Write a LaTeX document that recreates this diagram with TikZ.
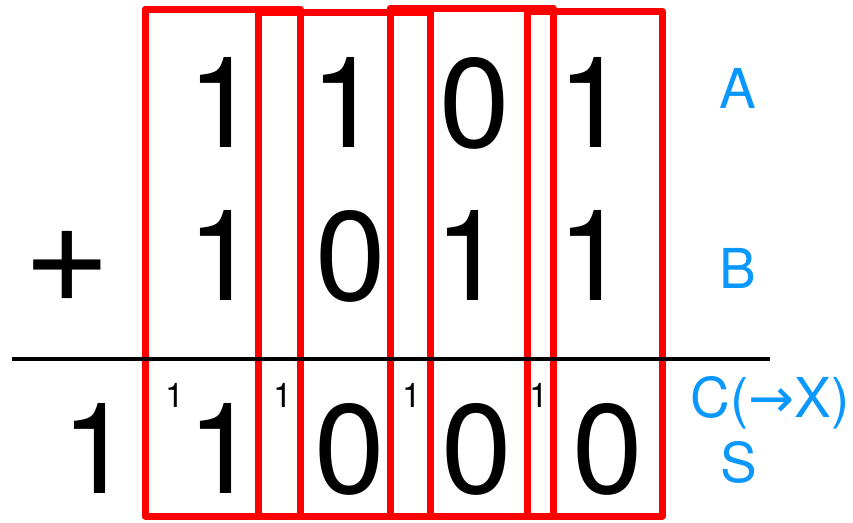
\documentclass[tikz,border=0pt]{standalone}
\usepackage{fontspec}
\setmainfont{TeX Gyre Heros}
\newfontfamily\arrowfont{DejaVu Sans}
\usepackage{tikz}
\usetikzlibrary{positioning}
\usepackage{xcolor}
\definecolor{labblue}{RGB}{10,152,255}

\begin{document}
\begin{tikzpicture}[x=1pt,y=-1pt,
  digit/.style={anchor=base,inner sep=0pt,font=\fontsize{127}{127}\selectfont},
  carry/.style={anchor=base,inner sep=0pt,font=\fontsize{34}{34}\selectfont},
  lab/.style={anchor=base,inner sep=0pt,text=labblue,font=\fontsize{55}{55}\selectfont},
  fabox/.style={draw=red,line width=7pt,line join=round}]
\useasboundingbox (0,0) rectangle (853,522);
% full adder boxes
\draw[fabox] (145,9) rectangle (300,516);
\draw[fabox] (258,12) rectangle (430,516);
\draw[fabox] (390,8) rectangle (553,516);
\draw[fabox] (527,11) rectangle (662,516);
% sum rule
\coordinate (ruleL) at (12,359);
\coordinate (ruleR) at (770,359);
\draw[line width=4pt] (ruleL) -- (ruleR);
% A
\node[digit] (a1) at (223,147) {1};
\node[digit] (a2) at (346,147) {1};
\node[digit] (a3) at (475,147) {0};
\node[digit] (a4) at (593,147) {1};
% B
\node[font=\fontsize{150}{150}\selectfont,inner sep=0pt] (plus) at (67,267) {+};
\node[digit] (b1) at (223,300) {1};
\node[digit] (b2) at (351,300) {0};
\node[digit] (b3) at (470,300) {1};
\node[digit] (b4) at (593,300) {1};
% carries
\node[carry] (c1) at (175,407) {1};
\node[carry] (c2) at (283,407) {1};
\node[carry] (c3) at (412,407) {1};
\node[carry] (c4) at (539,407) {1};
% S
\node[digit] (s0) at (97,493) {1};
\node[digit] (s1) at (223,493) {1};
\node[digit] (s2) at (350,493) {0};
\node[digit] (s3) at (477,493) {0};
\node[digit] (s4) at (608,493) {0};
% labels
\node[lab] (labA) at (738,108) {A};
\node[lab] (labB) at (738,288) {B};
\node[lab] (labC) at (770,417) {C({\arrowfont →}X)};
\node[lab] (labS) at (739,482) {S};
\end{tikzpicture}
\end{document}
